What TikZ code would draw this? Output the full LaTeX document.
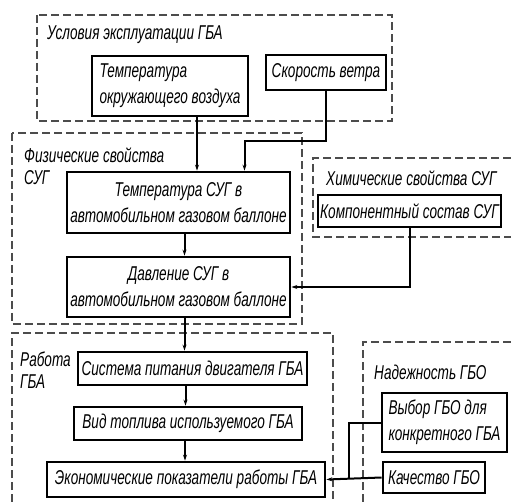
\documentclass[tikz,border=0pt]{standalone}
\usepackage{fontspec}
\setmainfont{Liberation Sans}[FakeStretch=0.68]
\usepackage{tikz}
\usetikzlibrary{arrows.meta,calc}

\begin{document}
\begin{tikzpicture}[
    x=1pt, y=-1pt,
    font=\fontsize{20}{26}\selectfont\itshape,
    block/.style={draw, line width=2.8pt, align=center, inner sep=1pt},
    lblock/.style={block, align=left, inner xsep=4pt},
    group/.style={draw=black!70, line width=1.5pt, dash pattern=on 8pt off 4pt},
    title/.style={anchor=west, align=left, inner sep=0pt, font=\fontsize{20}{22}\selectfont\itshape},
    arr/.style={line width=2pt, -{Stealth[length=6pt,width=4pt]}}
]
\useasboundingbox (0,0) rectangle (511,502);

% groups
\draw[group] (37,15) rectangle (392,121);
\draw[group] (12,133) rectangle (302,324);
\draw[group] (511,158) -- (313,158) -- (313,237) -- (511,237);
\draw[group] (12,502) -- (12,333) -- (333,333) -- (333,502);
\draw[group] (363,502) -- (363,342) -- (511,342);

\node[title] (gusl) at (47,35) {Условия эксплуатации ГБА};
\node[title] (gfiz) at (24,166) {Физические свойства\\СУГ};
\node[title] (ghim) at (326,178) {Химические свойства СУГ};
\node[title] (grab) at (20,370) {Работа\\ГБА};
\node[title] (gnad) at (374,372) {Надежность ГБО};

% blocks
\node[lblock, minimum width=156pt, minimum height=60pt] (air) at (170,86) {Температура\\окружающего воздуха};
\node[block, minimum width=120pt, minimum height=35pt] (wind) at (326,72.5) {Скорость ветра};
\node[block, minimum width=223pt, minimum height=61pt] (tsug) at (178.5,202.5) {Температура СУГ в\\автомобильном газовом баллоне};
\node[block, minimum width=223pt, minimum height=60pt] (psug) at (178.5,287) {Давление СУГ в\\автомобильном газовом баллоне};
\node[block, minimum width=183pt, minimum height=32pt] (comp) at (409.5,211) {Компонентный состав СУГ};
\node[block, minimum width=229pt, minimum height=33pt] (supply) at (192.5,368.5) {Система питания двигателя ГБА};
\node[block, minimum width=228pt, minimum height=33pt] (fuel) at (188,423.5) {Вид топлива используемого ГБА};
\node[block, minimum width=278pt, minimum height=35pt] (econ) at (186,479.5) {Экономические показатели работы ГБА};
\node[lblock, minimum width=125pt, minimum height=59pt] (choice) at (444.5,422.5) {Выбор ГБО для\\конкретного ГБА};
\node[block, minimum width=102pt, minimum height=31pt] (quality) at (434,477.5) {Качество ГБО};

\coordinate (join) at ($(econ.east)!0.41!(quality.west)$);

% links
\draw[arr] ([xshift=27pt]air.south) -- ([xshift=27pt]air.south |- tsug.north);
\draw[arr] (wind.south) -- ++(0,50) -| ([xshift=66pt]tsug.north);
\draw[arr] ([xshift=6pt]tsug.south) -- ([xshift=6pt]psug.north);
\draw[arr] (comp.south) |- (psug.east);
\draw[arr] ([xshift=6pt]psug.south) -- ([xshift=6pt]psug.south |- supply.north);
\draw[arr] ([xshift=-7pt]supply.south) -- ([xshift=-7pt]supply.south |- fuel.north);
\draw[arr] ([xshift=-3pt]fuel.south) -- ([xshift=-3pt]fuel.south |- econ.north);
\draw[arr] (quality.west) -- (econ.east);
\draw[line width=2pt] (choice.west) -| (join);

\end{tikzpicture}
\end{document}
